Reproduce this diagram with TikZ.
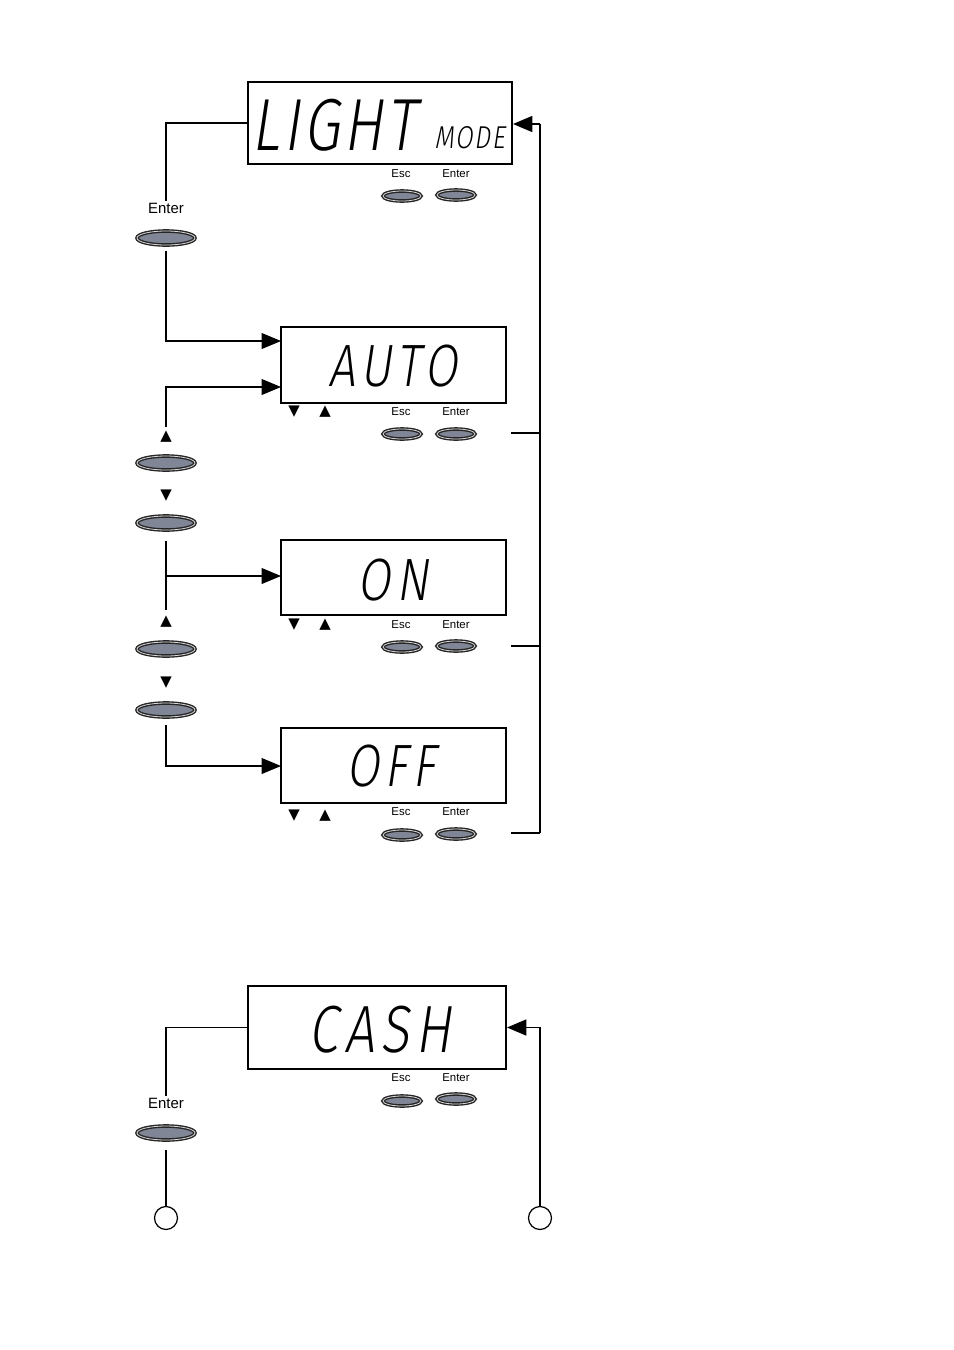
\documentclass[tikz,border=0pt]{standalone}
\usepackage{fontspec}
\setmainfont{Liberation Sans}
\newfontfamily\lcdfont[FakeSlant=0.15,FakeStretch=0.8,LetterSpace=9]{Fira Sans Light}
\newfontfamily\lcdtight[FakeSlant=0.15,FakeStretch=0.8,LetterSpace=5]{Fira Sans Light}
\newfontfamily\symfont{DejaVu Sans}
\usetikzlibrary{arrows.meta,shapes.geometric}
\definecolor{btngray}{RGB}{128,134,150}

\begin{document}
\begin{tikzpicture}[x=0.02cm,y=-0.02cm,
    display/.style={draw,line width=1.1pt,inner sep=0pt},
    lcd/.style={font=\lcdfont\fontsize{#1}{#1}\selectfont,inner sep=0pt},
    lcdt/.style={font=\lcdtight\fontsize{#1}{#1}\selectfont,inner sep=0pt},
    bigbtn/.style={ellipse,draw=black!85,line width=0.8pt,double=gray!30,double distance=0.45pt,
        fill=btngray,minimum width=1.16cm,minimum height=0.28cm,inner sep=0pt},
    smallbtn/.style={bigbtn,minimum width=0.76cm,minimum height=0.2cm},
    keylbl/.style={font=\fontsize{6.5}{7}\selectfont,inner sep=1pt},
    sidelbl/.style={font=\fontsize{8.5}{9}\selectfont,inner sep=1pt},
    tri/.style={font=\symfont\fontsize{8.5}{8.5}\selectfont,inner sep=0.5pt},
    conn/.style={line width=0.6pt},
    arr/.style={conn,-{Triangle[length=11pt,width=9pt]}},
    ret/.style={line width=1.1pt}]
    \useasboundingbox (0,0) rectangle (954,1350);

    % light mode
    \node[display,minimum width=5.28cm,minimum height=1.64cm] (light) at (380,123) {};
    \node[lcdt=42,anchor=base west] (lighttxt) at (251,150) {LIGHT};
    \node[lcdt=18,anchor=base west] (modetxt) at (434,148) {MODE};
    \node[keylbl] (lesc) at (401,174) {Esc};
    \node[keylbl] (lent) at (456,174) {Enter};
    \node[smallbtn] (lescb) at (402,196) {};
    \node[smallbtn] (lentb) at (456,195) {};

    \node[sidelbl] (ent1) at (166,208) {Enter};
    \node[bigbtn] (ent1b) at (166,238) {};

    % auto
    \node[display,minimum width=4.5cm,minimum height=1.52cm] (auto) at (393.5,365) {};
    \node[lcd=34,anchor=base] (autotxt) at (393,386) {AUTO};
    \coordinate (autoin1) at (281,341);
    \coordinate (autoin2) at (281,387);
    \node[tri] (adn) at (294,412) {▼};
    \node[tri] (aup) at (325,412) {▲};
    \node[keylbl] (aesc) at (401,412) {Esc};
    \node[keylbl] (aent) at (456,412) {Enter};
    \node[smallbtn] (aescb) at (402,434) {};
    \node[smallbtn] (aentb) at (456,434) {};
    \coordinate (aout) at (511,433);

    \node[tri] (up1) at (166,437) {▲};
    \node[bigbtn] (up1b) at (166,463) {};
    \node[tri] (dn1) at (166,496) {▼};
    \node[bigbtn] (dn1b) at (166,523) {};

    % on
    \node[display,minimum width=4.5cm,minimum height=1.5cm] (on) at (393.5,577.5) {};
    \node[lcd=34,anchor=base] (ontxt) at (393,600) {ON};
    \coordinate (onin) at (281,576);
    \node[tri] (odn) at (294,625) {▼};
    \node[tri] (oup) at (325,625) {▲};
    \node[keylbl] (oesc) at (401,625) {Esc};
    \node[keylbl] (oent) at (456,625) {Enter};
    \node[smallbtn] (oescb) at (402,647) {};
    \node[smallbtn] (oentb) at (456,646) {};
    \coordinate (oout) at (511,646);

    \node[tri] (up2) at (166,622) {▲};
    \node[bigbtn] (up2b) at (166,649) {};
    \node[tri] (dn2) at (166,683) {▼};
    \node[bigbtn] (dn2b) at (166,710) {};

    % off
    \node[display,minimum width=4.5cm,minimum height=1.5cm] (off) at (393.5,765.5) {};
    \node[lcd=34,anchor=base] (offtxt) at (391,786) {OFF};
    \coordinate (offin) at (281,766);
    \node[tri] (fdn) at (294,816) {▼};
    \node[tri] (fup) at (325,816) {▲};
    \node[keylbl] (fesc) at (401,812) {Esc};
    \node[keylbl] (fent) at (456,812) {Enter};
    \node[smallbtn] (fescb) at (402,835) {};
    \node[smallbtn] (fentb) at (456,834) {};
    \coordinate (fout) at (511,833);

    \coordinate (spine) at (540,124);

    % connectors
    \draw[conn] (light.west) -| (ent1.north);
    \draw[arr,shorten <=3pt] (ent1b.south) |- (autoin1);
    \draw[arr,shorten <=2pt] (up1.north) |- (autoin2);
    \draw[conn] ([yshift=-6pt]dn1b.south) -- ([yshift=3pt]up2.north);
    \draw[arr] (onin -| dn1b) -- (onin);
    \draw[arr,shorten <=4pt] (dn2b.south) |- (offin);
    \draw[conn] (aout) -- (aout -| spine);
    \draw[conn] (oout) -- (oout -| spine);
    \draw[conn] (fout) -- (fout -| spine);
    \draw[ret] (fout -| spine) -- (spine);
    \draw[arr,ret] (spine) -- (light.east |- spine);

    % cash
    \node[display,minimum width=5.16cm,minimum height=1.66cm] (cash) at (377,1027.5) {};
    \node[lcd=38,anchor=base] (cashtxt) at (380,1052) {CASH};
    \node[keylbl] (cesc) at (401,1078) {Esc};
    \node[keylbl] (cent) at (456,1078) {Enter};
    \node[smallbtn] (cescb) at (402,1101) {};
    \node[smallbtn] (centb) at (456,1099) {};

    \node[sidelbl] (ent2) at (166,1103) {Enter};
    \node[bigbtn] (ent2b) at (166,1133) {};
    \node[circle,draw,line width=0.7pt,minimum size=0.46cm,inner sep=0pt] (cin) at (166,1218) {};
    \node[circle,draw,line width=0.7pt,minimum size=0.46cm,inner sep=0pt] (cout) at (540,1218) {};

    \draw[conn] (cash.west) -| (ent2.north);
    \draw[conn,shorten <=5pt] (ent2b.south) -- (cin);
    \draw[arr,ret] (cout) |- (cash.east);
\end{tikzpicture}
\end{document}
